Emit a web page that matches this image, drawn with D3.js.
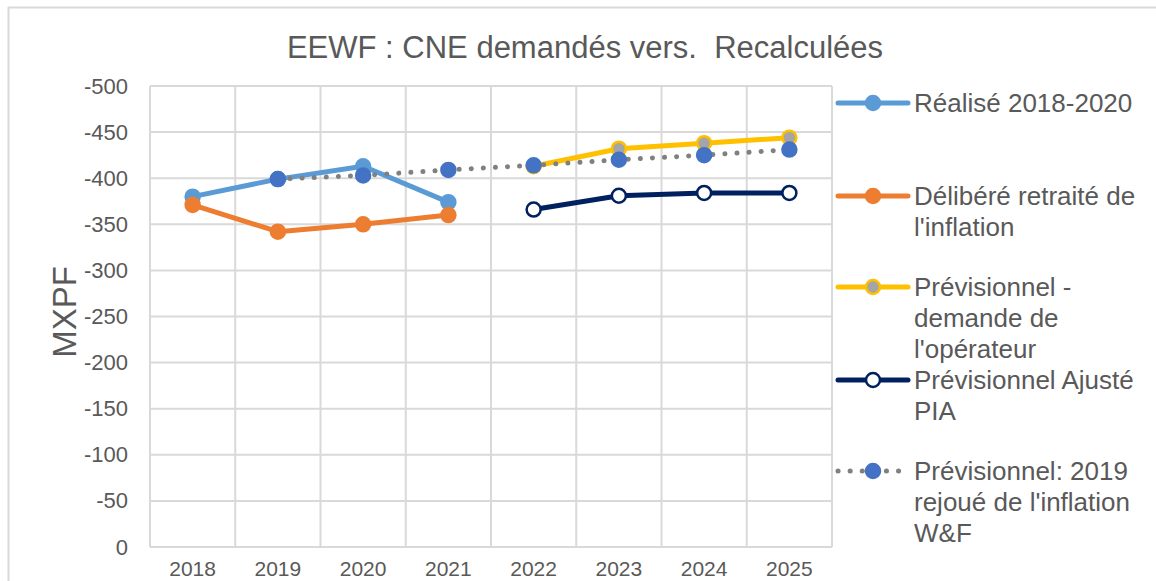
<!DOCTYPE html>
<meta charset="utf-8">
<html>
<style>
body { margin: 0; background: #fff; }
text { font-family: "Liberation Sans", Arial, sans-serif; fill: #595959; }
</style>
<body>
<script src="https://cdn.jsdelivr.net/npm/d3@7"></script>
<script>

// categories
var years = ["2018","2019","2020","2021","2022","2023","2024","2025"];

// series values (null = no point)
var realise   = [-380, -399, -413, -374, null, null, null, null];
var delibere  = [-371, -342, -350, -360, null, null, null, null];
var demande   = [null, null, null, null, -413, -432, -438, -444];
var ajuste    = [null, null, null, null, -366, -381, -384, -384];
var rejoue    = [null, -399, -403, -409, -414, -420, -425, -431];

var yTicks = [0, -50, -100, -150, -200, -250, -300, -350, -400, -450, -500];

var width = 1156, height = 581;
var plotL = 150, plotR = 832, plotT = 86, plotB = 547;

var svg = d3.select("body").append("svg")
    .attr("width", width)
    .attr("height", height);

// chart frame
svg.append("rect")
    .attr("x", 8.5).attr("y", 7.5)
    .attr("width", 1200).attr("height", 700)
    .attr("fill", "none").attr("stroke", "#d9d9d9").attr("stroke-width", 2);

var x = d3.scaleBand().domain(years).range([plotL, plotR]);
var y = d3.scaleLinear().domain([0, -500]).range([plotB, plotT]);

// gridlines
var grid = svg.append("g");
grid.selectAll(".h").data(yTicks).enter().append("line")
    .attr("x1", plotL).attr("x2", plotR)
    .attr("y1", d => y(d)).attr("y2", d => y(d))
    .attr("stroke", "#d9d9d9").attr("stroke-width", 2);
grid.selectAll(".v").data(years.concat(["end"])).enter().append("line")
    .attr("x1", (d, i) => plotL + i * x.bandwidth())
    .attr("x2", (d, i) => plotL + i * x.bandwidth())
    .attr("y1", plotT).attr("y2", plotB)
    .attr("stroke", "#d9d9d9").attr("stroke-width", 2);

// y axis labels (plain hyphen, like Excel)
var yAxis = d3.axisLeft(y).tickValues(yTicks).tickSize(0).tickPadding(22)
    .tickFormat(d => String(d));
svg.append("g").attr("transform", "translate(" + plotL + ",0)").call(yAxis)
    .call(g => g.select(".domain").remove())
    .selectAll("text")
    .style("font-size", "22px").attr("fill", "#595959")
    .style("font-family", "Liberation Sans, Arial, sans-serif");

// x axis labels
var xAxis = d3.axisBottom(x).tickSize(0).tickPadding(14);
svg.append("g").attr("transform", "translate(0," + plotB + ")").call(xAxis)
    .call(g => g.select(".domain").remove())
    .selectAll("text")
    .style("font-size", "21px").attr("fill", "#595959")
    .style("font-family", "Liberation Sans, Arial, sans-serif");

// title
svg.append("text")
    .attr("x", 585).attr("y", 58)
    .attr("text-anchor", "middle")
    .style("font-size", "31px")
    .style("white-space", "pre")
    .text("EEWF : CNE demandés vers.  Recalculées");

// y axis title
svg.append("text")
    .attr("transform", "translate(76,312) rotate(-90)")
    .attr("text-anchor", "middle")
    .style("font-size", "33px")
    .text("MXPF");

var line = d3.line()
    .defined(d => d.v != null)
    .x(d => x(d.year) + x.bandwidth() / 2)
    .y(d => y(d.v));

var series = [
  { name: ["Réalisé 2018-2020"], values: realise, color: "#5b9bd5", mfill: "#5b9bd5", mstroke: "#5b9bd5", dash: null, ly: 103 },
  { name: ["Délibéré retraité de", "l'inflation"], values: delibere, color: "#ed7d31", mfill: "#ed7d31", mstroke: "#ed7d31", dash: null, ly: 196 },
  { name: ["Prévisionnel -", "demande de", "l'opérateur"], values: demande, color: "#ffc000", mfill: "#a5a5a5", mstroke: "#ffc000", dash: null, ly: 287 },
  { name: ["Prévisionnel Ajusté", "PIA"], values: ajuste, color: "#002060", mfill: "#ffffff", mstroke: "#002060", dash: null, ly: 380 },
  { name: ["Prévisionnel: 2019", "rejoué de l'inflation", "W&F"], values: rejoue, color: "#808080", mfill: "#4472c4", mstroke: "#4472c4", dash: "0.1 12", ly: 471 }
];

series.forEach(function(s) {
  var pts = years.map((yr, i) => ({ year: yr, v: s.values[i] }));
  svg.append("path")
      .datum(pts)
      .attr("d", line)
      .attr("fill", "none")
      .attr("stroke", s.color)
      .attr("stroke-width", 5)
      .attr("stroke-linecap", "round")
      .attr("stroke-linejoin", "round")
      .attr("stroke-dasharray", s.dash);
  svg.append("g").selectAll("circle")
      .data(pts.filter(d => d.v != null))
      .enter().append("circle")
      .attr("cx", d => x(d.year) + x.bandwidth() / 2)
      .attr("cy", d => y(d.v))
      .attr("r", 7)
      .attr("fill", s.mfill)
      .attr("stroke", s.mstroke)
      .attr("stroke-width", 2.5);

  // legend entry
  var lg = svg.append("g");
  lg.append("line")
      .attr("x1", 838).attr("x2", 908)
      .attr("y1", s.ly).attr("y2", s.ly)
      .attr("stroke", s.color).attr("stroke-width", 5)
      .attr("stroke-linecap", "round")
      .attr("stroke-dasharray", s.dash);
  lg.append("circle")
      .attr("cx", 873).attr("cy", s.ly).attr("r", 7)
      .attr("fill", s.mfill).attr("stroke", s.mstroke).attr("stroke-width", 2.5);
  s.name.forEach(function(t, i) {
    lg.append("text")
        .attr("x", 914).attr("y", s.ly + i * 30.7)
        .attr("dy", "0.35em")
        .style("font-size", "26px")
        .text(t);
  });
});

</script>
</body>
</html>
